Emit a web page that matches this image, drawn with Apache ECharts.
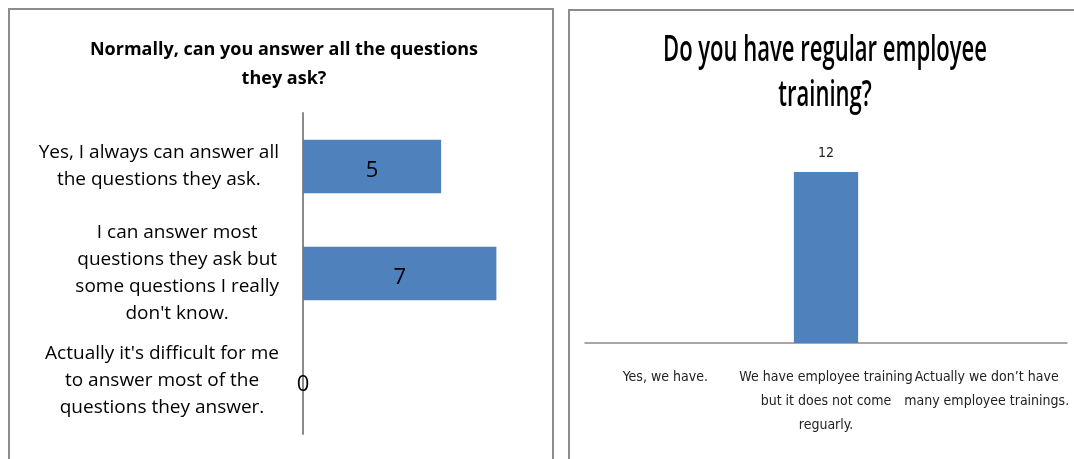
<!DOCTYPE html>
<html>
<head>
<meta charset="utf-8">
<style>
  html, body { margin: 0; padding: 0; background: #fff; }
  #chart { width: 1074px; height: 459px; }
</style>
<script src="https://cdn.jsdelivr.net/npm/echarts@6/dist/echarts.min.js"></script>
</head>
<body>
<div id="chart"></div>
<script>
// Survey question 1: can staff answer the customers' questions
const answerTitle = 'Normally, can you answer all the questions\nthey ask?';
const answerCategories = [
  "Yes, I always can answer all\nthe questions they ask.",
  "I can answer most\nquestions they ask but\nsome questions I really\ndon't know.",
  "Actually it's difficult for me\nto answer most of the\nquestions they answer."
];
const answerCounts = [5, 7, 0];

// Survey question 2: regular employee training
const trainingTitle = 'Do you have regular employee\ntraining?';
const trainingCategories = [
  "Yes, we have.",
  "We have employee training\nbut it does not come\nreguarly.",
  "Actually we don\u2019t have\nmany employee trainings."
];
const trainingCounts = [0, 12, 0];

const BAR_COLOR = '#4F81BD';
const AXIS_COLOR = '#8a8a8a';
const NARROW = "'Liberation Sans Narrow', 'DejaVu Sans Condensed', 'Liberation Sans', sans-serif";
const BODY = "'Open Sans', 'Liberation Sans', sans-serif";

// The big right-hand heading is set in a condensed style: squeeze it horizontally
// so that its first line takes TITLE_WIDTH pixels.
const TITLE_FONT_SIZE = 36;
const TITLE_WEIGHT = 600;
const TITLE_WIDTH = 324;
const measureCtx = document.createElement('canvas').getContext('2d');
measureCtx.font = TITLE_WEIGHT + ' ' + TITLE_FONT_SIZE + 'px ' + BODY;
const titleScale = TITLE_WIDTH / measureCtx.measureText(trainingTitle.split('\n')[0]).width;

const chart = echarts.init(document.getElementById('chart'), null, { renderer: 'canvas' });

chart.setOption({
  animation: false,
  backgroundColor: '#fff',
  title: [
    {
      text: answerTitle,
      left: 279, top: 30, textAlign: 'center',
      textStyle: { fontFamily: BODY, fontSize: 18, fontWeight: 'bold', color: '#000', lineHeight: 29 }
    }
  ],
  graphic: [
    { type: 'rect', shape: { x: 9, y: 9, width: 544, height: 480 },
      style: { fill: 'none', stroke: '#8c8c8c', lineWidth: 2 }, silent: true },
    { type: 'rect', shape: { x: 569, y: 10, width: 530, height: 480 },
      style: { fill: 'none', stroke: '#8c8c8c', lineWidth: 2 }, silent: true },
    {
      type: 'text', x: 825, y: 73, scaleX: titleScale, silent: true,
      style: {
        text: trainingTitle, fill: '#000',
        fontFamily: BODY, fontSize: TITLE_FONT_SIZE, fontWeight: TITLE_WEIGHT,
        align: 'center', verticalAlign: 'middle', lineHeight: 45
      }
    }
  ],
  grid: [
    { left: 303, right: 550, top: 113, bottom: 25 },
    { left: 585, right: 7, top: 143.5, bottom: 116 }
  ],
  xAxis: [
    { type: 'value', gridIndex: 0, min: 0, max: 8, show: false },
    {
      type: 'category', gridIndex: 1, data: trainingCategories,
      axisLine: { show: true, lineStyle: { color: AXIS_COLOR, width: 1.5 } },
      axisTick: { show: false },
      axisLabel: {
        interval: 0, margin: 22, color: '#222',
        fontFamily: NARROW, fontSize: 14, lineHeight: 24
      }
    }
  ],
  yAxis: [
    {
      type: 'category', gridIndex: 0, data: answerCategories, inverse: true,
      axisLine: { show: true, lineStyle: { color: AXIS_COLOR, width: 2 } },
      axisTick: { show: false },
      axisLabel: {
        interval: 0, margin: 24, align: 'right',
        formatter: v => v.split('\n').map(l => '{c|' + l + '}').join('\n'),
        rich: { c: { align: 'center', fontFamily: BODY, fontSize: 19, lineHeight: 27, color: '#000' } }
      }
    },
    { type: 'value', gridIndex: 1, min: 0, max: 14, show: false }
  ],
  series: [
    {
      type: 'bar', xAxisIndex: 0, yAxisIndex: 0, data: answerCounts,
      barWidth: '50%', itemStyle: { color: BAR_COLOR },
      label: { show: true, position: 'inside', offset: [0, 4], color: '#000', fontFamily: BODY, fontSize: 22 }
    },
    {
      type: 'bar', xAxisIndex: 1, yAxisIndex: 1, data: trainingCounts,
      barWidth: '40%', itemStyle: { color: BAR_COLOR },
      label: {
        show: true, position: 'top', distance: 12, color: '#222',
        fontFamily: NARROW, fontSize: 14,
        formatter: p => (p.value ? String(p.value) : '')
      }
    }
  ]
});
</script>
</body>
</html>
